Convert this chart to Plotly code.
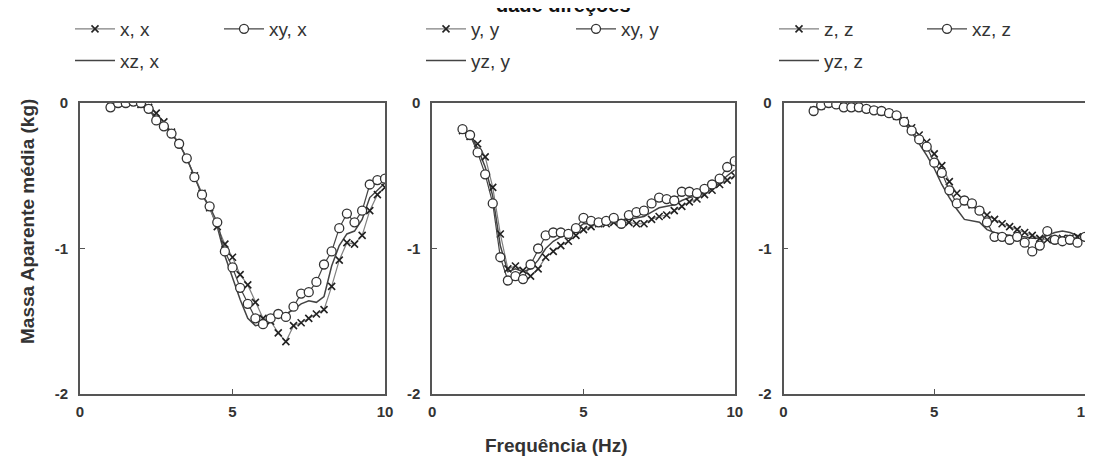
import plotly.graph_objects as go

# ---------------- data ----------------
freq = [1.0, 1.25, 1.5, 1.75, 2.0, 2.25, 2.5, 2.75, 3.0, 3.25, 3.5, 3.75,
        4.0, 4.25, 4.5, 4.75, 5.0, 5.25, 5.5, 5.75, 6.0, 6.25, 6.5, 6.75,
        7.0, 7.25, 7.5, 7.75, 8.0, 8.25, 8.5, 8.75, 9.0, 9.25, 9.5, 9.75, 10.0]

# panel 1 (x direction)
x_x = [-0.03, 0.0, 0.0, 0.01, -0.01, -0.03, -0.07, -0.13, -0.20, -0.28, -0.38, -0.50,
       -0.62, -0.72, -0.85, -0.97, -1.06, -1.18, -1.25, -1.37, -1.48, -1.50, -1.58, -1.64,
       -1.53, -1.51, -1.48, -1.45, -1.42, -1.26, -1.08, -0.96, -0.97, -0.91, -0.74, -0.63, -0.58]
xy_x = [-0.03, 0.0, 0.0, 0.01, 0.0, -0.04, -0.12, -0.16, -0.21, -0.28, -0.38, -0.51,
        -0.63, -0.71, -0.82, -1.02, -1.13, -1.27, -1.38, -1.48, -1.52, -1.48, -1.45, -1.47,
        -1.40, -1.31, -1.30, -1.23, -1.11, -1.02, -0.86, -0.76, -0.82, -0.74, -0.56, -0.53, -0.52]
xz_x = [-0.03, 0.0, 0.0, 0.01, 0.0, -0.04, -0.10, -0.15, -0.21, -0.28, -0.38, -0.50,
        -0.63, -0.72, -0.85, -1.05, -1.20, -1.35, -1.48, -1.53, -1.52, -1.46, -1.44, -1.45,
        -1.42, -1.38, -1.36, -1.37, -1.33, -1.12, -0.98, -0.90, -0.88, -0.80, -0.65, -0.60, -0.55]

# panel 2 (y direction)
y_y = [-0.19, -0.23, -0.28, -0.37, -0.58, -0.90, -1.14, -1.12, -1.15, -1.19, -1.14, -1.06,
       -1.02, -0.98, -0.95, -0.91, -0.87, -0.85, -0.83, -0.83, -0.82, -0.82, -0.82, -0.83,
       -0.83, -0.80, -0.78, -0.77, -0.74, -0.71, -0.68, -0.66, -0.63, -0.60, -0.56, -0.53, -0.50]
xy_y = [-0.18, -0.22, -0.34, -0.49, -0.69, -1.06, -1.22, -1.19, -1.21, -1.11, -1.00, -0.91,
        -0.89, -0.89, -0.90, -0.86, -0.79, -0.81, -0.82, -0.81, -0.79, -0.83, -0.77, -0.75,
        -0.74, -0.69, -0.65, -0.66, -0.67, -0.61, -0.61, -0.62, -0.59, -0.56, -0.52, -0.44, -0.40]
yz_y = [-0.18, -0.22, -0.31, -0.44, -0.64, -0.98, -1.16, -1.14, -1.16, -1.14, -1.08, -1.00,
        -0.95, -0.92, -0.90, -0.87, -0.83, -0.83, -0.83, -0.82, -0.82, -0.81, -0.80, -0.79,
        -0.78, -0.75, -0.72, -0.71, -0.70, -0.67, -0.65, -0.64, -0.62, -0.59, -0.55, -0.50, -0.46]

# panel 3 (z direction)
z_z = [-0.05, -0.02, 0.0, -0.01, -0.03, -0.03, -0.03, -0.04, -0.05, -0.06, -0.07, -0.09,
       -0.12, -0.17, -0.22, -0.27, -0.35, -0.43, -0.54, -0.62, -0.67, -0.70, -0.74, -0.77,
       -0.80, -0.83, -0.85, -0.87, -0.89, -0.91, -0.93, -0.94, -0.94, -0.93, -0.93, -0.92, -0.92]
xz_z = [-0.055, -0.016, 0.0, -0.01, -0.03, -0.03, -0.03, -0.04, -0.05, -0.055, -0.07, -0.085,
        -0.13, -0.19, -0.25, -0.30, -0.41, -0.48, -0.60, -0.69, -0.67, -0.69, -0.74, -0.82,
        -0.92, -0.92, -0.94, -0.92, -0.96, -1.02, -0.98, -0.88, -0.94, -0.95, -0.94, -0.96, -0.92]
yz_z = [-0.05, -0.02, 0.0, -0.01, -0.03, -0.03, -0.03, -0.04, -0.05, -0.06, -0.07, -0.10,
        -0.14, -0.20, -0.28, -0.36, -0.45, -0.56, -0.65, -0.73, -0.80, -0.81, -0.82, -0.87,
        -0.89, -0.90, -0.91, -0.92, -0.92, -0.93, -0.93, -0.91, -0.89, -0.88, -0.89, -0.91, -0.92]

ytick_vals = [0, -1, -2]
ytick_text = ["0", "-1", "-2"]
xtick_vals = [0, 5, 10]
xtick_text = ["0", "5", "10"]

panels = [
    ("x, x", x_x, "xy, x", xy_x, "xz, x", xz_x),
    ("y, y", y_y, "xy, y", xy_y, "yz, y", yz_y),
    ("z, z", z_z, "xz, z", xz_z, "yz, z", yz_z),
]

# ---------------- layout constants ----------------
W, H = 1093, 459
ML, MR, MT, MB = 72, 16, 95, 73
PW = W - ML - MR
PH = H - MT - MB
domains = [[0.0, 0.3035], [0.3505, 0.6515], [0.7000, 1.0]]
TXT = "#333333"
FONT = "Liberation Sans, Arial, sans-serif"


def px_x(p):
    return (p - ML) / PW


def px_y(p):
    return 1 - (p - MT) / PH


legend_cols = [(62, 211), (413, 563), (766, 914)]

fig = go.Figure()
for i, (n1, d1, n2, d2, n3, d3) in enumerate(panels):
    ax = "" if i == 0 else str(i + 1)
    lgA = "legend" if i == 0 else "legend%d" % (2 * i + 1)
    lgB = "legend%d" % (2 * i + 2)
    # solid line
    fig.add_trace(go.Scatter(
        x=freq, y=d3, name=n3, mode="lines",
        line=dict(color="#444444", width=1.5),
        xaxis="x" + ax, yaxis="y" + ax, legend=lgA, legendrank=2,
        legendgroup="s%d" % i))
    # crosses
    fig.add_trace(go.Scatter(
        x=freq, y=d1, name=n1, mode="lines+markers",
        line=dict(color="#808080", width=1.2),
        marker=dict(symbol="x-thin", size=7, color="#222222",
                    line=dict(color="#222222", width=1.6)),
        xaxis="x" + ax, yaxis="y" + ax, legend=lgA, legendrank=1,
        legendgroup="c%d" % i))
    # circles
    fig.add_trace(go.Scatter(
        x=freq, y=d2, name=n2, mode="lines+markers",
        line=dict(color="#444444", width=1.2),
        marker=dict(symbol="circle", size=9, color="white",
                    line=dict(color="#333333", width=1.3)),
        xaxis="x" + ax, yaxis="y" + ax, legend=lgB, legendrank=1,
        legendgroup="o%d" % i))

axis_common = dict(
    showgrid=False, zeroline=False, showline=True, mirror=True,
    linecolor="#555555", linewidth=1.6,
    ticks="inside", ticklen=5, tickwidth=1.2, tickcolor="#555555",
    tickfont=dict(family=FONT, size=15, color=TXT, weight="bold"),
    ticklabeloverflow="allow",
)

layout = dict(
    width=W, height=H,
    margin=dict(l=ML, r=MR, t=MT, b=MB, autoexpand=False),
    plot_bgcolor="white", paper_bgcolor="white",
    font=dict(family=FONT, color=TXT),
    showlegend=True,
)
for i in range(3):
    sfx = "" if i == 0 else str(i + 1)
    layout["xaxis" + sfx] = dict(
        axis_common, domain=domains[i], range=[0, 10], anchor="y" + sfx,
        tickvals=xtick_vals, ticktext=xtick_text, ticklabelstandoff=3)
    layout["yaxis" + sfx] = dict(
        axis_common, domain=[0, 1], range=[-2, 0], anchor="x" + sfx,
        tickvals=ytick_vals, ticktext=ytick_text, ticklabelstandoff=7)
    lgA = "legend" if i == 0 else "legend%d" % (2 * i + 1)
    lgB = "legend%d" % (2 * i + 2)
    for name, xp in ((lgA, legend_cols[i][0]), (lgB, legend_cols[i][1])):
        layout[name] = dict(
            x=px_x(xp), y=px_y(2), xanchor="left", yanchor="top",
            xref="paper", yref="paper",
            bgcolor="rgba(0,0,0,0)", borderwidth=0,
            font=dict(family=FONT, size=19, color=TXT),
            traceorder="grouped", tracegroupgap=4, itemwidth=40,
        )

fig.update_layout(**layout)

fig.add_annotation(
    text="Massa Aparente média (kg)", textangle=-90,
    x=px_x(19), y=px_y(214), xref="paper", yref="paper",
    xanchor="center", yanchor="middle",
    showarrow=False, font=dict(family=FONT, size=19, color=TXT, weight="bold"))
fig.add_annotation(
    text="Frequência (Hz)",
    x=px_x(548), y=px_y(437), xref="paper", yref="paper",
    xanchor="center", yanchor="middle",
    showarrow=False, font=dict(family=FONT, size=19, color=TXT, weight="bold"))
fig.add_annotation(
    text="dade direções",
    x=px_x(555), y=px_y(10), xref="paper", yref="paper",
    xanchor="center", yanchor="bottom",
    showarrow=False, font=dict(family=FONT, size=20, color="#111111", weight="bold"))

fig.write_html("out.html")
